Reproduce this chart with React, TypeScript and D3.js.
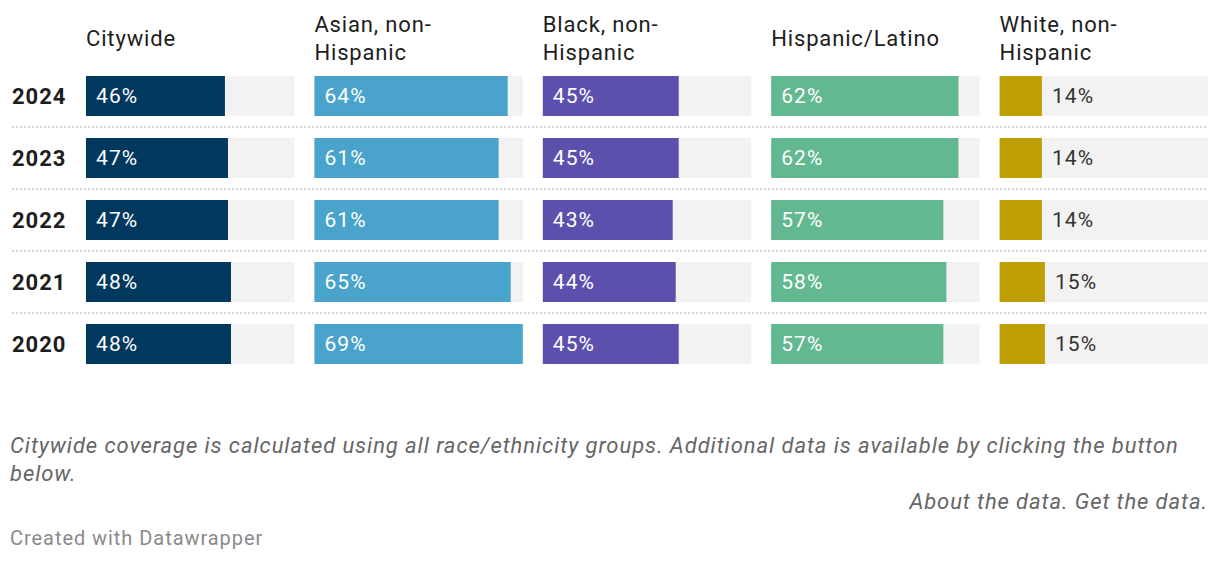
import { useEffect } from 'react';
import * as d3 from 'd3';

const years = ['2024', '2023', '2022', '2021', '2020'];
const groups = ['Citywide', 'Asian, non-Hispanic', 'Black, non-Hispanic', 'Hispanic/Latino', 'White, non-Hispanic'];
const headerLines = [['Citywide'], ['Asian, non-', 'Hispanic'], ['Black, non-', 'Hispanic'], ['Hispanic/Latino'], ['White, non-', 'Hispanic']];
const colors = ['#01385d', '#4aa3cb', '#5c50ad', '#62b890', '#bd9e04'];

const citywide = [46, 47, 47, 48, 48];
const asian = [64, 61, 61, 65, 69];
const black = [45, 45, 43, 44, 45];
const hispanic = [62, 62, 57, 58, 57];
const white = [14, 14, 14, 15, 15];
const seriesValues = [citywide, asian, black, hispanic, white];

const WIDTH = 1220;
const HEIGHT = 562;
const FONT = 'Roboto, "Noto Sans", sans-serif';

export default function App() {
    useEffect(() => {
        document.body.style.margin = '0';
    }, []);

    const col = d3.scaleBand<string>()
        .domain(groups)
        .range([86, 1208])
        .paddingInner(0.0876)
        .paddingOuter(0);

    const row = d3.scaleBand<string>()
        .domain(years)
        .range([65, 375])
        .paddingInner(0.355)
        .paddingOuter(0.1775);

    const maxValue = d3.max(seriesValues, s => d3.max(s)) || 0;
    const x = d3.scaleLinear().domain([0, maxValue]).range([0, col.bandwidth()]);
    const bh = row.bandwidth();

    return (
        <svg width={WIDTH} height={HEIGHT} style={{ display: 'block', fontFamily: FONT }}>
            <rect width={WIDTH} height={HEIGHT} fill="#ffffff" />

            {/* column headers */}
            {groups.map((g, gi) => {
                const lines = headerLines[gi];
                const first = 46 - (lines.length - 1) * 14;
                return (
                    <text key={g} x={col(g)} fontSize={22} letterSpacing={0.85} fill="#1d1d1d">
                        {lines.map((l, li) => (
                            <tspan key={li} x={col(g)} y={first + li * 28}>{l}</tspan>
                        ))}
                    </text>
                );
            })}

            {/* row separators */}
            {years.slice(0, -1).map(yr => {
                const yy = (row(yr) || 0) + bh + 11;
                return (
                    <line key={yr} x1={12} x2={1208} y1={yy} y2={yy}
                        stroke="#d4d4d4" strokeWidth={2} strokeDasharray="2,2" />
                );
            })}

            {years.map((yr, yi) => {
                const y0 = row(yr) || 0;
                return (
                    <g key={yr}>
                        <text x={12} y={y0 + bh / 2 + 8} fontSize={22} fontWeight={700} letterSpacing={1} fill="#1d1d1d">{yr}</text>
                        {groups.map((g, gi) => {
                            const v = seriesValues[gi][yi];
                            const x0 = col(g) || 0;
                            const w = x(v);
                            const inside = w > 60;
                            return (
                                <g key={g}>
                                    <rect x={x0} y={y0} width={col.bandwidth()} height={bh} fill="#f2f2f2" />
                                    <rect x={x0} y={y0} width={w} height={bh} fill={colors[gi]} />
                                    <text
                                        x={inside ? x0 + 10 : x0 + w + 10}
                                        y={y0 + bh / 2 + 7}
                                        fontSize={21}
                                        letterSpacing={1.1}
                                        fill={inside ? '#ffffff' : '#333333'}
                                    >{v}%</text>
                                </g>
                            );
                        })}
                    </g>
                );
            })}

            {/* notes */}
            <text x={10} y={453} fontSize={22} fontStyle="italic" letterSpacing={0.92} fill="#666666">
                Citywide coverage is calculated using all race/ethnicity groups. Additional data is available by clicking the button
            </text>
            <text x={10} y={481} fontSize={22} fontStyle="italic" letterSpacing={0.92} fill="#666666">below.</text>
            <text x={1208} y={509} fontSize={22} fontStyle="italic" letterSpacing={0.9} fill="#666666" textAnchor="end">
                About the data. Get the data.
            </text>
            <text x={10} y={545} fontSize={20} letterSpacing={0.95} fill="#8a8a8a">Created with Datawrapper</text>
        </svg>
    );
}
